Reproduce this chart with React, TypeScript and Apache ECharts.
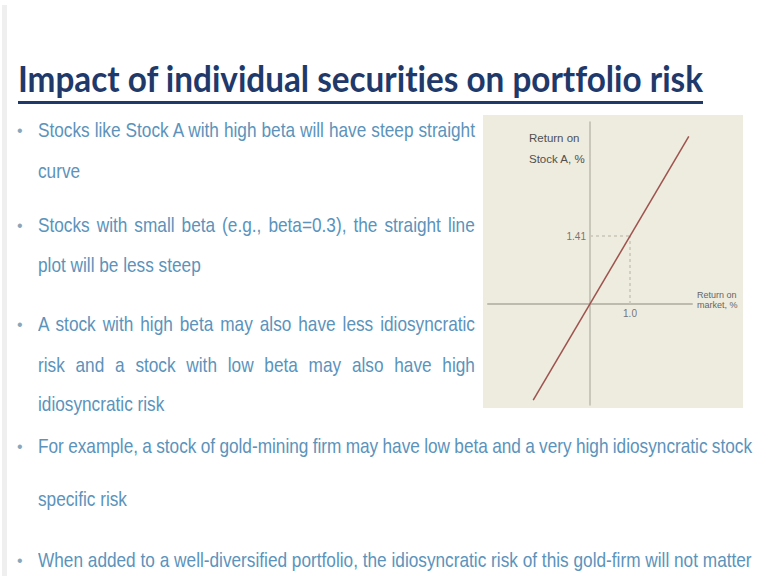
import React, { useEffect, useLayoutEffect, useRef } from "react";
import * as echarts from "echarts";

// ---- chart data ----
const stockLineX = [-1.42, 2.47];
const stockLineY = [-2.0, 3.48];
const refX = 1.0;
const refY = 1.41;
const xTickValues = [1.0];
const yTickValues = [1.41];
const xAxisMin = -2.55;
const xAxisMax = 2.55;
const yAxisMin = -2.1;
const yAxisMax = 3.78;
const yAxisTitle = "Return on\nStock A, %";
const xAxisTitle = "Return on\nmarket, %";

// ---- slide text ----
const titleText = "Impact of individual securities on portfolio risk";
const slideLines = [
  "Stocks like Stock A with high beta will have steep straight",
  "curve",
  "Stocks with small beta (e.g., beta=0.3), the straight line",
  "plot will be less steep",
  "A stock with high beta may also have less idiosyncratic",
  "risk and a stock with low beta may also have high",
  "idiosyncratic risk",
  "For example, a stock of gold-mining firm may have low beta and a very high idiosyncratic stock",
  "specific risk",
  "When added to a well-diversified portfolio, the idiosyncratic risk of this gold-firm will not matter",
];
// layout: centre y, bullet shown, target width (0 = natural)
const lineLayout = [
  { y: 131, bullet: true, w: 437 },
  { y: 172, bullet: false, w: 0 },
  { y: 226, bullet: true, w: 437 },
  { y: 266, bullet: false, w: 0 },
  { y: 325, bullet: true, w: 437 },
  { y: 366, bullet: false, w: 437 },
  { y: 405, bullet: false, w: 0 },
  { y: 447, bullet: true, w: 714 },
  { y: 500, bullet: false, w: 0 },
  { y: 561, bullet: true, w: 714 },
];

const TITLE_COLOR = "#1f3a6a";
const TEXT_COLOR = "#5b93bb";
const BULLET_COLOR = "#8aa6ba";
const CONDENSE = 0.82;
const TEXT_SIZE = 21;

function Chart() {
  const ref = useRef<HTMLDivElement>(null);
  useEffect(() => {
    if (!ref.current) return;
    const chart = echarts.init(ref.current, undefined, { renderer: "svg" });
    const axisColor = "#bdbaae";
    const labelStyle = {
      color: "#555",
      fontSize: 10,
      fontFamily: "Liberation Sans",
    };
    chart.setOption({
      animation: false,
      backgroundColor: "#eeebdf",
      grid: {
        left: 5,
        top: 7,
        width: 204,
        height: 283,
        containLabel: false,
        outerBoundsMode: "none",
      },
      xAxis: {
        type: "value",
        min: xAxisMin,
        max: xAxisMax,
        axisLine: { onZero: true, lineStyle: { color: axisColor, width: 2 } },
        axisTick: { show: false },
        splitLine: { show: false },
        axisLabel: { show: false },
      },
      yAxis: {
        type: "value",
        min: yAxisMin,
        max: yAxisMax,
        axisLine: { onZero: true, lineStyle: { color: axisColor, width: 1.5 } },
        axisTick: { show: false },
        splitLine: { show: false },
        axisLabel: { show: false },
      },
      graphic: [
        {
          type: "text",
          left: 46,
          top: 12,
          style: {
            text: yAxisTitle,
            fill: "#505050",
            fontSize: 11.5,
            lineHeight: 21,
            fontFamily: "Liberation Sans",
          },
        },
        {
          type: "text",
          left: 214,
          top: 175,
          style: {
            text: xAxisTitle,
            fill: "#666",
            fontSize: 9,
            lineHeight: 10,
            fontFamily: "Liberation Sans",
          },
        },
      ],
      series: [
        {
          type: "line",
          data: [
            [0, refY],
            [refX, refY],
          ],
          showSymbol: false,
          silent: true,
          lineStyle: { color: "#c9c5b6", width: 1.5, type: [3, 3] },
        },
        {
          type: "line",
          data: [
            [refX, 0],
            [refX, refY],
          ],
          showSymbol: false,
          silent: true,
          lineStyle: { color: "#c9c5b6", width: 1.5, type: [3, 3] },
        },
        {
          type: "line",
          data: stockLineX.map((x, i) => [x, stockLineY[i]]),
          showSymbol: false,
          silent: true,
          lineStyle: { color: "#9d534d", width: 1.5 },
        },
        {
          type: "scatter",
          silent: true,
          symbolSize: 0,
          data: yTickValues.map((v) => [0, v]),
          label: {
            show: true,
            position: "left",
            distance: 4,
            formatter: (p: any) => p.value[1].toFixed(2),
            ...labelStyle,
          },
        },
        {
          type: "scatter",
          silent: true,
          symbolSize: 0,
          data: xTickValues.map((v) => [v, 0]),
          label: {
            show: true,
            position: "bottom",
            distance: 5,
            formatter: (p: any) => p.value[0].toFixed(1),
            ...labelStyle,
          },
        },
      ],
    });
    return () => chart.dispose();
  }, []);
  return (
    <div
      ref={ref}
      style={{ position: "absolute", left: 483, top: 115, width: 260, height: 293 }}
    />
  );
}

export default function App() {
  const titleRef = useRef<HTMLSpanElement>(null);
  const lineRefs = useRef<(HTMLSpanElement | null)[]>([]);

  const fit = () => {
    const t = titleRef.current;
    if (t) {
      const w = t.offsetWidth;
      if (w > 0) t.style.transform = `scaleX(${685 / w})`;
    }
    lineRefs.current.forEach((el, i) => {
      if (!el) return;
      const target = lineLayout[i].w;
      if (!target) return;
      el.style.wordSpacing = "0px";
      const w = el.offsetWidth;
      const spaces = slideLines[i].split(" ").length - 1;
      if (spaces > 0)
        el.style.wordSpacing = `${(target / CONDENSE - w) / spaces}px`;
    });
  };

  useLayoutEffect(() => {
    fit();
    if ((document as any).fonts && (document as any).fonts.ready) {
      (document as any).fonts.ready.then(fit);
    }
  }, []);

  return (
    <div
      style={{
        position: "absolute",
        left: 0,
        top: 0,
        width: 761,
        height: 576,
        background: "#ffffff",
        overflow: "hidden",
        fontFamily: "'Liberation Sans', Arial, sans-serif",
      }}
    >
      <div
        style={{
          position: "absolute",
          left: 2,
          top: 5,
          width: 5,
          height: 571,
          background: "#efefef",
        }}
      />
      <span
        ref={titleRef}
        style={{
          position: "absolute",
          left: 18,
          top: 56,
          display: "inline-block",
          whiteSpace: "nowrap",
          transformOrigin: "0 0",
          fontFamily: "Lato",
          fontWeight: 700,
          fontSize: 37,
          lineHeight: "44px",
          color: TITLE_COLOR,
          fontVariantLigatures: "none",
        }}
      >
        {titleText}
      </span>
      <div
        style={{
          position: "absolute",
          left: 18,
          top: 101,
          width: 685,
          height: 2.5,
          background: TITLE_COLOR,
        }}
      />
      {slideLines.map((txt, i) => (
        <React.Fragment key={i}>
          {lineLayout[i].bullet && (
            <span
              style={{
                position: "absolute",
                left: 17,
                top: lineLayout[i].y - 11,
                lineHeight: "22px",
                fontSize: 16,
                color: BULLET_COLOR,
              }}
            >
              •
            </span>
          )}
          <span
            ref={(el) => {
              lineRefs.current[i] = el;
            }}
            style={{
              position: "absolute",
              left: 38,
              top: lineLayout[i].y - 13,
              display: "inline-block",
              whiteSpace: "nowrap",
              lineHeight: "24px",
              fontSize: TEXT_SIZE,
              color: TEXT_COLOR,
              transform: `scaleX(${CONDENSE})`,
              transformOrigin: "0 0",
            }}
          >
            {txt}
          </span>
        </React.Fragment>
      ))}
      <Chart />
    </div>
  );
}
